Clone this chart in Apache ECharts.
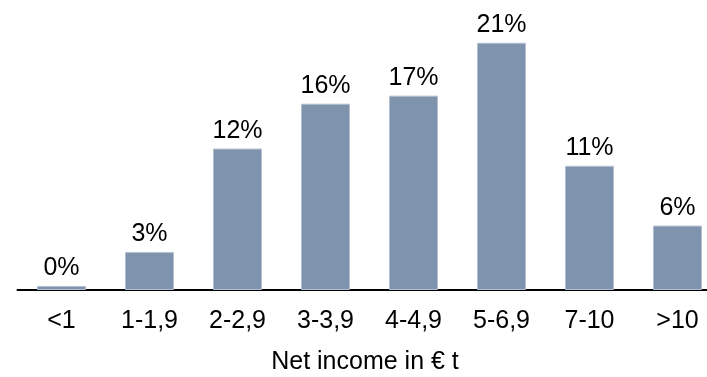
<!DOCTYPE html>
<html>
<head>
<meta charset="utf-8">
<script src="https://cdn.jsdelivr.net/npm/echarts@6/dist/echarts.min.js"></script>
<style>html,body{margin:0;padding:0;background:#fff;overflow:hidden;}#c{width:707px;height:377px;}</style>
</head>
<body>
<div id="c"></div>
<script>
var categories = ['<1', '1-1,9', '2-2,9', '3-3,9', '4-4,9', '5-6,9', '7-10', '>10'];
var values = [0.35, 3.3, 12.3, 16.2, 16.9, 21.5, 10.8, 5.6];
var labels = ['0%', '3%', '12%', '16%', '17%', '21%', '11%', '6%'];
var axisTitle = 'Net income in € t';

var chart = echarts.init(document.getElementById('c'), null, {renderer: 'canvas'});
chart.setOption({
  animation: false,
  grid: {left: 17.5, width: 704, top: 2.5, bottom: 87, containLabel: false, outerBoundsMode: 'none'},
  xAxis: {
    type: 'category',
    data: categories,
    name: axisTitle,
    nameLocation: 'middle',
    nameGap: 60,
    nameTextStyle: {fontFamily: 'Liberation Sans', fontSize: 25, color: '#000', padding: [0, 9, 0, 0]},
    axisLine: {lineStyle: {color: '#000', width: 2}},
    axisTick: {show: false},
    axisLabel: {fontFamily: 'Liberation Sans', fontSize: 25, color: '#000', margin: 19}
  },
  yAxis: {type: 'value', min: 0, max: 25, show: false, splitLine: {show: false}},
  series: [{
    type: 'bar',
    data: values,
    barWidth: 49,
    itemStyle: {color: '#7f93ad', borderColor: '#b4c0d0', borderWidth: 1},
    label: {
      show: true,
      position: 'top',
      distance: 5,
      fontFamily: 'Liberation Sans',
      fontSize: 25,
      color: '#000',
      formatter: function (p) { return labels[p.dataIndex]; }
    }
  }]
});
</script>
</body>
</html>
